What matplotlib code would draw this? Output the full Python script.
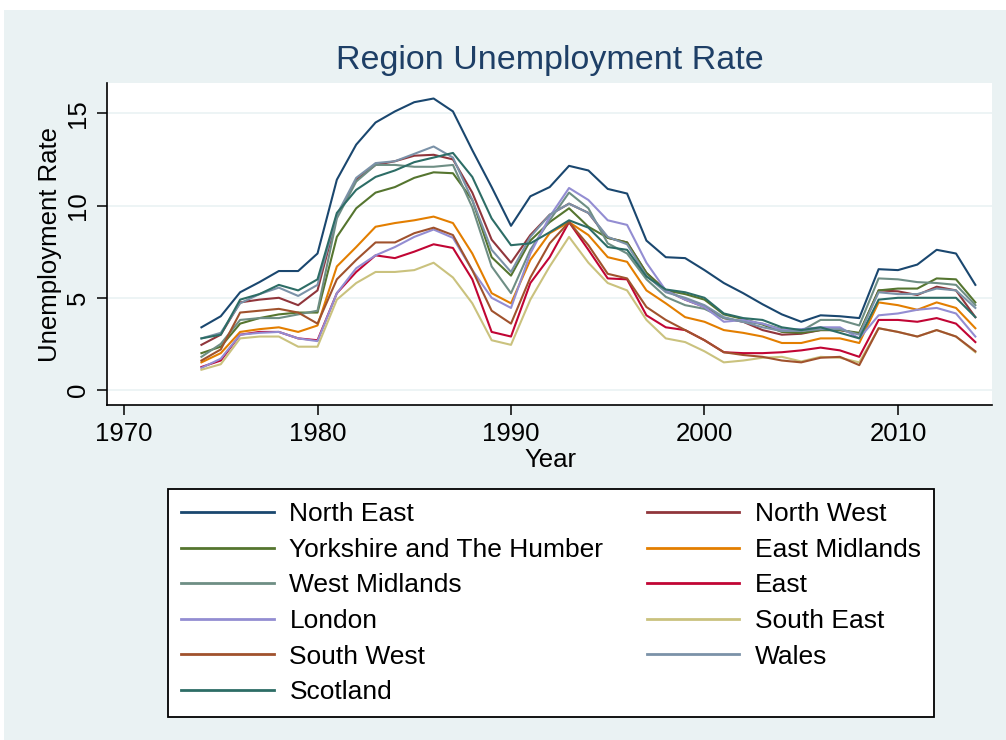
import numpy as np
import matplotlib.pyplot as plt
from matplotlib.patches import Rectangle

plt.rcParams['font.family'] = ['Liberation Sans', 'DejaVu Sans']

# Anos (1974-2014)
anos = np.arange(1974, 2015)

# Taxas de desemprego por região
north_east = [3.4, 4.0, 5.3, 5.85, 6.45, 6.45, 7.4, 11.4, 13.3, 14.5,
              15.1, 15.6, 15.8, 15.1, 13.0, 11.0, 8.9, 10.5, 11.0, 12.15,
              11.9, 10.9, 10.65, 8.1, 7.2, 7.15, 6.5, 5.8, 5.25, 4.65,
              4.1, 3.7, 4.05, 4.0, 3.9, 6.55, 6.5, 6.8, 7.6, 7.4, 5.7]
north_west = [2.45, 3.0, 4.75, 4.9, 5.0, 4.6, 5.4, 9.4, 11.4, 12.2,
              12.4, 12.7, 12.75, 12.5, 10.7, 8.15, 6.9, 8.4, 9.5, 10.1,
              9.6, 8.25, 8.0, 6.35, 5.4, 4.9, 4.5, 3.9, 3.7, 3.25,
              3.0, 3.05, 3.25, 3.25, 3.05, 5.4, 5.35, 5.15, 5.6, 5.4, 3.95]
yorkshire = [2.0, 2.35, 3.6, 3.9, 4.1, 4.2, 4.2, 8.3, 9.85, 10.7,
             11.0, 11.5, 11.8, 11.75, 10.3, 7.2, 6.2, 8.1, 9.1, 9.85,
             8.85, 8.25, 8.0, 6.35, 5.4, 5.2, 4.9, 4.1, 3.85, 3.55,
             3.15, 3.1, 3.25, 3.25, 3.1, 5.4, 5.5, 5.5, 6.05, 6.0, 4.75]
east_midlands = [1.5, 2.0, 3.15, 3.3, 3.4, 3.15, 3.5, 6.7, 7.75, 8.85,
                 9.05, 9.2, 9.4, 9.05, 7.4, 5.25, 4.7, 7.05, 8.5, 9.1,
                 8.4, 7.2, 6.95, 5.4, 4.7, 3.95, 3.7, 3.25, 3.1, 2.9,
                 2.55, 2.55, 2.8, 2.8, 2.55, 4.75, 4.6, 4.35, 4.75, 4.45, 3.35]
west_midlands = [1.8, 2.5, 3.8, 3.9, 3.9, 4.1, 4.3, 9.3, 11.3, 12.2,
                 12.2, 12.1, 12.1, 12.2, 9.9, 6.7, 5.25, 7.6, 9.2, 10.7,
                 9.85, 7.95, 7.4, 6.0, 5.05, 4.6, 4.4, 3.9, 3.7, 3.6,
                 3.3, 3.2, 3.8, 3.8, 3.5, 6.05, 6.0, 5.85, 5.8, 5.7, 4.6]
east = [1.25, 1.6, 3.0, 3.15, 3.15, 2.8, 2.7, 5.25, 6.4, 7.3,
        7.15, 7.5, 7.9, 7.7, 6.0, 3.15, 2.9, 5.8, 7.2, 9.1,
        7.6, 6.05, 6.0, 4.05, 3.4, 3.25, 2.7, 2.05, 2.0, 2.0,
        2.05, 2.15, 2.3, 2.15, 1.8, 3.8, 3.8, 3.7, 3.9, 3.6, 2.6]
london = [1.2, 1.7, 3.0, 3.1, 3.15, 2.8, 2.65, 5.25, 6.6, 7.3,
          7.75, 8.3, 8.7, 8.25, 6.5, 5.0, 4.45, 7.4, 9.4, 10.95,
          10.3, 9.2, 8.95, 6.9, 5.4, 4.9, 4.5, 3.7, 3.8, 3.6,
          3.25, 3.3, 3.4, 3.4, 2.8, 4.05, 4.15, 4.35, 4.45, 4.15, 2.9]
south_east = [1.1, 1.4, 2.8, 2.9, 2.9, 2.35, 2.35, 4.9, 5.8, 6.4,
              6.4, 6.5, 6.9, 6.1, 4.7, 2.7, 2.45, 4.9, 6.7, 8.3,
              6.9, 5.8, 5.4, 3.8, 2.8, 2.6, 2.1, 1.5, 1.6, 1.75,
              1.8, 1.55, 1.8, 1.75, 1.5, 3.35, 3.15, 2.9, 3.25, 2.9, 2.05]
south_west = [1.6, 2.2, 4.2, 4.3, 4.4, 4.2, 3.6, 6.0, 7.05, 8.0,
              8.0, 8.5, 8.8, 8.4, 6.5, 4.3, 3.6, 6.1, 7.95, 9.1,
              7.85, 6.3, 6.05, 4.5, 3.8, 3.25, 2.7, 2.05, 1.9, 1.8,
              1.6, 1.5, 1.75, 1.8, 1.35, 3.35, 3.15, 2.9, 3.25, 2.9, 2.1]
wales = [2.8, 3.1, 4.7, 5.2, 5.55, 5.1, 5.7, 9.5, 11.5, 12.3,
         12.4, 12.8, 13.2, 12.6, 10.3, 7.6, 6.4, 8.3, 9.5, 10.1,
         9.6, 8.3, 7.9, 6.2, 5.3, 5.0, 4.6, 3.95, 3.7, 3.4,
         3.2, 3.2, 3.3, 3.3, 3.0, 5.3, 5.2, 5.2, 5.5, 5.4, 4.45]
scotland = [2.8, 3.0, 4.9, 5.2, 5.7, 5.4, 6.0, 9.6, 10.85, 11.55,
            11.9, 12.35, 12.6, 12.85, 11.55, 9.3, 7.85, 7.95, 8.55, 9.2,
            8.8, 7.75, 7.6, 6.15, 5.45, 5.3, 5.0, 4.15, 3.9, 3.8,
            3.4, 3.25, 3.4, 3.1, 2.8, 4.9, 5.0, 5.0, 5.0, 5.0, 3.95]

regioes = ["North East", "North West", "Yorkshire and The Humber", "East Midlands",
           "West Midlands", "East", "London", "South East", "South West",
           "Wales", "Scotland"]
series = [north_east, north_west, yorkshire, east_midlands, west_midlands,
          east, london, south_east, south_west, wales, scotland]
# paleta s2color do Stata
cores = ["#1a476f", "#90353b", "#55752f", "#e37e00", "#6e8e84", "#c10534",
         "#938dd2", "#cac27e", "#a0522d", "#7b92a8", "#2d6d66"]

W, H = 1006, 740
fig = plt.figure(figsize=(W / 100, H / 100), dpi=100, facecolor="white")
fig.patches.append(Rectangle((4 / W, 0), 1, 1 - 10 / H, transform=fig.transFigure,
                             facecolor="#eaf2f3", edgecolor="none", zorder=-10))

ax = fig.add_axes([107 / W, 1 - 405 / H, 885 / W, 322 / H])
ax.set_facecolor("white")

linhas = []
for nome, valores, cor in zip(regioes, series, cores):
    l, = ax.plot(anos, valores, color=cor, lw=1.5, label=nome, zorder=3)
    linhas.append(l)

ax.set_xlim(1969.12, 2014.86)
ax.set_ylim(-0.81, 16.64)
ax.set_xticks([1970, 1980, 1990, 2000, 2010])
ax.set_yticks([0, 5, 10, 15])
ax.grid(axis="y", color="#eaf2f3", lw=1.2, zorder=0)

for s in ["top", "right"]:
    ax.spines[s].set_visible(False)
for s in ["left", "bottom"]:
    ax.spines[s].set_linewidth(1.2)
    ax.spines[s].set_color("black")

ax.tick_params(axis="both", length=7, width=1.1, labelsize=18.5, color="black")
ax.tick_params(axis="x", pad=5)
ax.tick_params(axis="y", pad=5)
for t in ax.get_yticklabels():
    t.set_rotation(90)
    t.set_va("center")

ax.set_xlabel("Year", fontsize=18.5)
ax.xaxis.set_label_coords(0.5006, -0.133)
ax.set_ylabel("Unemployment Rate", fontsize=18.5, va="center")
ax.yaxis.set_label_coords(-0.0644, 0.5)

fig.text(550 / W, 1 - 60 / H, "Region Unemployment Rate", fontsize=24.5,
         color="#1e3f66", ha="center", va="center")

# legenda em duas colunas, ordenada por linha
ordem = linhas[0::2] + linhas[1::2]
leg = ax.legend(handles=ordem, labels=[l.get_label() for l in ordem], ncol=2,
                loc="upper left", bbox_to_anchor=(168 / W, 1 - 489 / H),
                bbox_transform=fig.transFigure, borderaxespad=0,
                fontsize=19, handlelength=3.5, handletextpad=0.6,
                columnspacing=1.65, labelspacing=0.44, borderpad=0.5,
                fancybox=False, framealpha=1, edgecolor="black")
leg.get_frame().set_linewidth(1.3)
for h in leg.get_lines():
    h.set_linewidth(2)

plt.savefig("out.png", dpi=100, facecolor=fig.get_facecolor())
